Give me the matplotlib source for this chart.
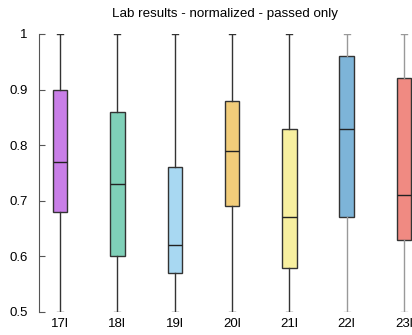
import matplotlib.pyplot as plt

labels = ['17l', '18l', '19l', '20l', '21l', '22l', '23l']
whislo = [0.5, 0.5, 0.5, 0.5, 0.5, 0.5, 0.5]
q1 = [0.68, 0.60, 0.57, 0.69, 0.58, 0.67, 0.63]
med = [0.77, 0.73, 0.62, 0.79, 0.67, 0.83, 0.71]
q3 = [0.90, 0.86, 0.76, 0.88, 0.83, 0.96, 0.92]
whishi = [1.0, 1.0, 1.0, 1.0, 1.0, 1.0, 1.0]
colors = ['#c97fe8', '#7fd0b8', '#a8d8f2', '#f2cd7a', '#f8f0a0', '#7db4d8', '#f08a82']
whisker_colors = ['#333333'] * 5 + ['#999999'] * 2

plt.rcParams['font.family'] = ['Liberation Sans', 'DejaVu Sans']

fig = plt.figure(figsize=(4.12, 3.35), dpi=100)
ax = fig.add_axes([39 / 412, 1 - 312 / 335, 1 - 39 / 412, (312 - 34) / 335])

stats = []
for i in range(len(labels)):
    stats.append({'label': labels[i], 'whislo': whislo[i], 'q1': q1[i], 'med': med[i],
                  'q3': q3[i], 'whishi': whishi[i], 'fliers': []})

bp = ax.bxp(stats, positions=range(1, 8), widths=0.25, capwidths=0.1,
            patch_artist=True, showfliers=False)

for i, box in enumerate(bp['boxes']):
    box.set_facecolor(colors[i])
    box.set_edgecolor('#333333')
    box.set_linewidth(1.0)
for i, m in enumerate(bp['medians']):
    m.set_color('#222222')
    m.set_linewidth(1.0)
for i in range(len(labels)):
    for ln in bp['whiskers'][2 * i:2 * i + 2] + bp['caps'][2 * i:2 * i + 2]:
        ln.set_color(whisker_colors[i])
        ln.set_linewidth(1.0)

ax.set_xlim(1 - 21 / 57.3, 7 + 8 / 57.3)
ax.set_ylim(0.5, 1.0)
ax.set_yticks([0.5, 0.6, 0.7, 0.8, 0.9, 1.0])
ax.set_yticklabels(['0.5', '0.6', '0.7', '0.8', '0.9', '1'])
for s in ['top', 'right', 'bottom']:
    ax.spines[s].set_visible(False)
ax.spines['left'].set_color('#555555')
ax.tick_params(axis='y', direction='in', length=4, color='#555555', labelsize=9.5, pad=8)
ax.tick_params(axis='x', length=0, labelsize=9.5, pad=4)
ax.set_title('Lab results - normalized - passed only', fontsize=9.6, pad=12)

fig.savefig('out.png')
